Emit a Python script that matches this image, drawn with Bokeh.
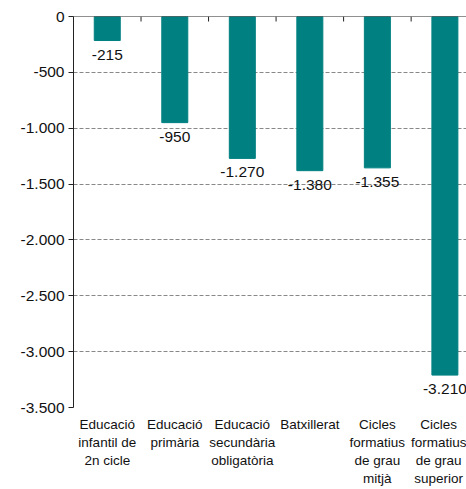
import math
from bokeh.plotting import figure
from bokeh.models import ColumnDataSource, FixedTicker, Range1d, Span
from bokeh.core.properties import value
from bokeh.embed import file_html
from bokeh.resources import INLINE

categories = [
    "Educació\ninfantil de\n2n cicle",
    "Educació\nprimària",
    "Educació\nsecundària\nobligatòria",
    "Batxillerat",
    "Cicles\nformatius\nde grau\nmitjà",
    "Cicles\nformatius\nde grau\nsuperior",
]
values = [-215, -950, -1270, -1380, -1355, -3210]
y_ticks = [0, -500, -1000, -1500, -2000, -2500, -3000, -3500]
y_tick_labels = ["0", "-500", "-1.000", "-1.500", "-2.000", "-2.500", "-3.000", "-3.500"]

FONT = "Liberation Sans"
TEAL = "#008080"

xs = [i + 0.5 for i in range(len(categories))]
bounds = [float(i) for i in range(len(categories))]
labels = [f"{v:,}".replace(",", ".") for v in values]
src = ColumnDataSource(dict(x=xs, v=values, lab=labels))

p = figure(width=466, height=489, output_backend="svg", toolbar_location=None,
           x_range=Range1d(0, 5.82), y_range=Range1d(-3500, 0),
           min_border_left=73, min_border_top=16, min_border_right=0, min_border_bottom=82)
p.outline_line_color = None
p.background_fill_color = "white"

p.xgrid.grid_line_color = None
p.ygrid.ticker = FixedTicker(ticks=y_ticks)
p.ygrid.grid_line_color = "#888888"
p.ygrid.grid_line_dash = "4 2"
p.ygrid.grid_line_width = 1

p.vbar(x="x", top=0, bottom="v", width=0.385, source=src, fill_color=TEAL, line_color=TEAL)
p.text(x="x", y="v", text="lab", source=src, text_align="center", text_baseline="top",
       y_offset=9, text_font=value(FONT), text_font_size="15.5px", text_color="#111111")

# zero line with category separator ticks
p.add_layout(Span(location=0, dimension="width", line_color="#222222", line_width=1))
p.ray(x=bounds, y=[0] * len(bounds), length=5, length_units="screen",
      angle=-math.pi / 2, line_color="#222222", line_width=1)

# y axis
ya = p.yaxis[0]
ya.ticker = FixedTicker(ticks=y_ticks)
ya.major_label_overrides = {t: l for t, l in zip(y_ticks, y_tick_labels)}
ya.major_tick_out = 5
ya.major_tick_in = 0
ya.minor_tick_line_color = None
ya.major_label_standoff = 4
ya.major_label_text_font = FONT
ya.major_label_text_font_size = "15.5px"
ya.major_label_text_color = "#111111"
ya.axis_line_color = "#222222"
ya.major_tick_line_color = "#222222"

# bottom category labels
xa = p.xaxis[0]
xa.ticker = FixedTicker(ticks=xs)
xa.major_label_overrides = {x: c for x, c in zip(xs, categories)}
xa.axis_line_color = None
xa.major_tick_line_color = None
xa.minor_tick_line_color = None
xa.major_tick_out = 0
xa.major_tick_in = 0
xa.major_label_standoff = 9
xa.major_label_text_font = FONT
xa.major_label_text_font_size = "13.5px"
xa.major_label_text_color = "#111111"
xa.major_label_text_line_height = 1.2

open("out.html", "w").write(file_html(p, INLINE))
